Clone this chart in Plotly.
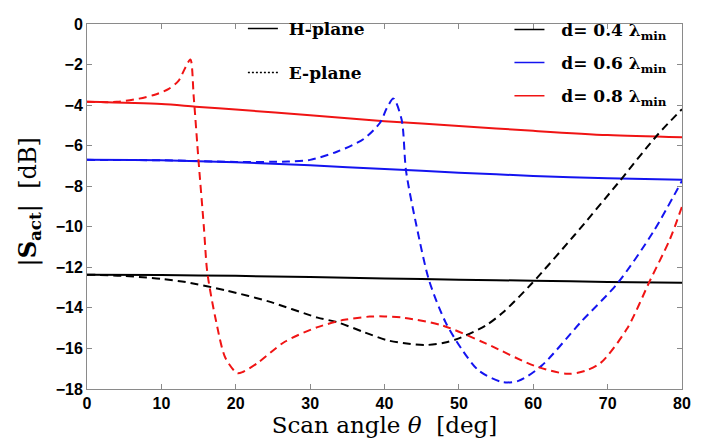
import plotly.graph_objects as go

# ---------------- data ----------------
# H-plane (solid)
h_theta_04 = [0, 10, 20, 30, 40, 50, 60, 70, 80]
h_s_04 = [-12.36, -12.38, -12.42, -12.48, -12.55, -12.61, -12.66, -12.72, -12.76]

h_theta_06 = [0, 10, 20, 30, 40, 50, 60, 70, 80]
h_s_06 = [-6.70, -6.72, -6.82, -6.97, -7.15, -7.33, -7.49, -7.61, -7.68]

h_theta_08 = [0, 10, 14.6, 20, 30, 40, 50, 60, 70, 80]
h_s_08 = [-3.84, -3.95, -4.08, -4.22, -4.50, -4.79, -5.03, -5.27, -5.48, -5.59]

# E-plane (dashed)
e_theta_04 = [0, 5, 7.5, 10, 13.3, 18.6, 24.4, 31, 33.6, 37.2, 40.3, 43, 45.6, 48,
              50, 53.6, 56, 59.8, 65.5, 71.3, 76.6, 80]
e_s_04 = [-12.36, -12.42, -12.49, -12.57, -12.73, -13.13, -13.68, -14.48, -14.70, -15.19,
          -15.59, -15.76, -15.83, -15.72, -15.50, -14.87, -14.20, -12.80, -10.43, -7.89,
          -5.51, -4.20]

e_theta_06 = [0, 10, 20, 27, 30, 33.6, 37.2, 39.4, 40.3, 41.2, 42.3, 42.9, 44.3, 46.0,
              48.2, 50.5, 52.7, 55.8, 58, 61.1, 66.4, 71.3, 76.1, 80]
e_s_06 = [-6.70, -6.72, -6.80, -6.78, -6.70, -6.30, -5.67, -4.87, -4.16, -3.68, -4.71,
          -7.25, -9.95, -12.65, -14.70, -16.10, -17.10, -17.65, -17.60, -16.86, -14.70,
          -12.80, -10.27, -7.73]

e_theta_08 = [0, 4, 7, 9, 11, 12.3, 13.2, 13.9, 14.35, 15, 15.7, 16.1, 16.4, 17.3, 18.6,
              20.2, 21, 23, 26.6, 31, 34.6, 38, 40, 42.5, 47.8, 53.6, 60.2, 64.6, 67,
              69.1, 72.6, 75.7, 78.4, 80]
e_s_08 = [-3.84, -3.84, -3.68, -3.50, -3.20, -2.80, -2.17, -1.75, -3.60, -6.76, -9.95,
          -12.00, -12.80, -14.56, -16.46, -17.22, -17.15, -16.70, -15.67, -14.95, -14.59,
          -14.43, -14.42, -14.48, -14.87, -15.75, -16.86, -17.25, -17.10, -16.70, -15.03,
          -12.65, -10.59, -9.00]

spacing_labels = ["\u00a0\u00a0d= 0.4 λ<sub>min</sub>", "\u00a0\u00a0d= 0.6 λ<sub>min</sub>",
                  "\u00a0\u00a0d= 0.8 λ<sub>min</sub>"]
plane_labels = ["\u00a0H-plane", "\u00a0E-plane"]
x_ticks = [0, 10, 20, 30, 40, 50, 60, 70, 80]
y_ticks = [0, -2, -4, -6, -8, -10, -12, -14, -16, -18]

# ---------------- styles ----------------
colors = ["#000000", "#1414f0", "#f01414"]
DASH = "8px,5px"
LW = 2

fig = go.Figure()

h_sets = [(h_theta_04, h_s_04), (h_theta_06, h_s_06), (h_theta_08, h_s_08)]
e_sets = [(e_theta_04, e_s_04), (e_theta_06, e_s_06), (e_theta_08, e_s_08)]

for (tx, sy), c in zip(h_sets, colors):
    fig.add_trace(go.Scatter(x=tx, y=sy, mode="lines", showlegend=False,
                             line=dict(color=c, width=LW, shape="spline", smoothing=0.8)))
for (tx, sy), c in zip(e_sets, colors):
    fig.add_trace(go.Scatter(x=tx, y=sy, mode="lines", showlegend=False,
                             line=dict(color=c, width=LW, dash=DASH, shape="spline",
                                       smoothing=0.8)))

# legend entries
fig.add_trace(go.Scatter(x=[None], y=[None], mode="lines", name=plane_labels[0],
                         line=dict(color="black", width=1.5), legend="legend",
                         legendgroup="h"))
fig.add_trace(go.Scatter(x=[None], y=[None], mode="lines", name=plane_labels[1],
                         line=dict(color="black", width=1.5, dash="2px,2px"),
                         legend="legend", legendgroup="e"))
for lab, c, g in zip(spacing_labels, colors, ["a", "b", "c"]):
    fig.add_trace(go.Scatter(x=[None], y=[None], mode="lines", name=lab,
                             line=dict(color=c, width=1.5), legend="legend2",
                             legendgroup=g))

tickfont = dict(family="Liberation Sans", size=16, color="black", weight="bold")
legfont = dict(family="DejaVu Serif", size=17, color="black", weight="bold")

axis_common = dict(showline=True, linecolor="#8a8a8a", linewidth=1, mirror="ticks",
                   ticks="inside", ticklen=5, tickcolor="#8a8a8a", showgrid=False,
                   zeroline=False, tickfont=tickfont)

fig.update_layout(
    width=702, height=441,
    margin=dict(l=87, r=13, t=11, b=52),
    paper_bgcolor="white", plot_bgcolor="white",
    xaxis=dict(range=[0, 80], tickvals=x_ticks, **axis_common,
               title=dict(text="Scan angle <i>θ</i>  [deg]",
                          font=dict(family="DejaVu Serif", size=23, color="black"),
                          standoff=1)),
    yaxis=dict(range=[-18, 0], tickvals=y_ticks, **axis_common),
    legend=dict(x=0.262, y=1.036, xanchor="left", yanchor="top", bgcolor="rgba(0,0,0,0)",
                font=legfont, tracegroupgap=19, borderwidth=0),
    legend2=dict(x=0.71, y=1.033, xanchor="left", yanchor="top", bgcolor="rgba(0,0,0,0)",
                 font=legfont, tracegroupgap=8, borderwidth=0),
    annotations=[dict(text="|<b>S</b><sub><b>act</b></sub>|  [dB]", textangle=-90,
                      xref="paper", yref="paper", x=-0.098, y=0.513,
                      xanchor="center", yanchor="middle", showarrow=False,
                      font=dict(family="DejaVu Serif", size=24, color="black"))],
)

fig.write_html("out.html")
